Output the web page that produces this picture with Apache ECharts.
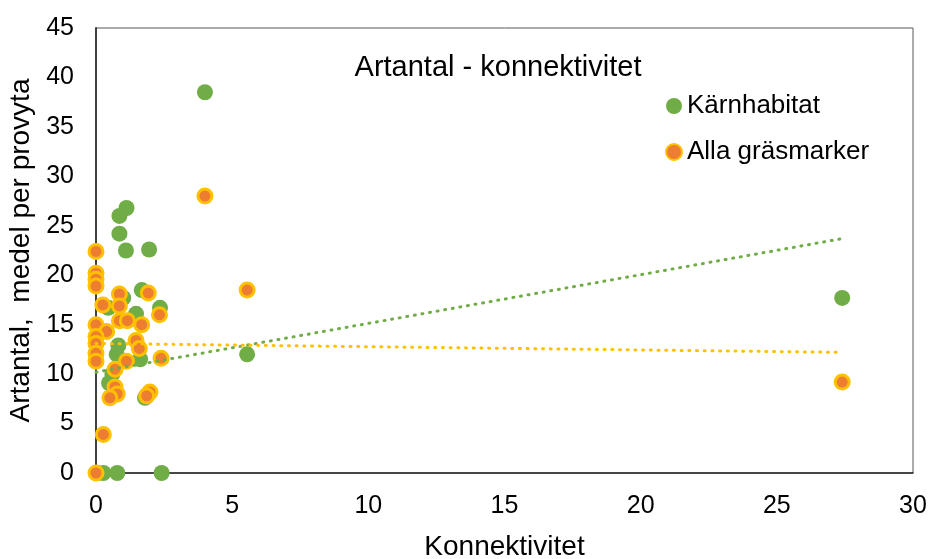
<!DOCTYPE html>
<html>
<head>
<meta charset="utf-8">
<script src="https://cdn.jsdelivr.net/npm/echarts@6/dist/echarts.min.js"></script>
<style>
  html, body { margin: 0; padding: 0; background: #fff; }
  #chart { width: 933px; height: 559px; }
</style>
</head>
<body>
<div id="chart"></div>
<script>
// Species count per site against connectivity
const karnhabitat = [
  [0.05, 0], [0.27, 0], [0.78, 0], [2.41, 0],
  [4.0, 38.5], [27.4, 17.7], [5.55, 12.0],
  [1.12, 26.8], [0.86, 26.0], [0.86, 24.2], [1.1, 22.5], [1.95, 22.6],
  [1.68, 18.5], [1.0, 17.7], [0.45, 16.7], [2.35, 16.7], [1.47, 16.1],
  [0.82, 12.9], [0.76, 12.0], [1.62, 11.5], [0.48, 9.1], [1.8, 7.6],
  [0.6, 10.0], [0.7, 8.2]
];
const allaGrasmarker = [
  [0, 0], [0.27, 3.9], [4.0, 28.0], [5.55, 18.5], [27.4, 9.2],
  [0, 22.4], [0, 20.2], [0, 19.6], [0, 18.9], [0.86, 18.1], [1.92, 18.2],
  [0.25, 17.0], [0.86, 16.9], [2.33, 16.0], [0.86, 15.4], [1.15, 15.4],
  [1.68, 15.0], [0, 15.0], [0.39, 14.3], [0, 13.8], [0, 13.1], [0, 12.1],
  [0, 11.3], [1.47, 13.4], [1.59, 12.6], [1.12, 11.3], [0.7, 10.5],
  [2.39, 11.6], [0.7, 8.7], [0.78, 8.0], [0.51, 7.6], [1.98, 8.2], [1.86, 7.8]
];
// Linear trend lines (start and end points)
const karnTrend = [[0, 10.2], [27.4, 23.7]];
const allaTrend = [[0, 13.1], [27.4, 12.2]];

const xTicks = [0, 5, 10, 15, 20, 25, 30];
const yTicks = [0, 5, 10, 15, 20, 25, 30, 35, 40, 45];

const FONT = 'Liberation Sans, Arial, sans-serif';
const GREEN = '#70AD47';
const ORANGE = '#ED7D31';
const GOLD = '#FFC000';

const chart = echarts.init(document.getElementById('chart'), null, { renderer: 'canvas' });
chart.setOption({
  animation: false,
  backgroundColor: '#fff',
  title: {
    text: 'Artantal - konnektivitet',
    left: 493, top: 48, textAlign: 'center',
    textStyle: { fontFamily: FONT, fontSize: 29, fontWeight: 'normal', color: '#000' }
  },
  legend: {
    orient: 'vertical',
    left: 660, top: 88,
    itemWidth: 16, itemHeight: 16, itemGap: 20,
    textStyle: { fontFamily: FONT, fontSize: 26, color: '#000' },
    data: [
      { name: 'Kärnhabitat', icon: 'circle' },
      { name: 'Alla gräsmarker', icon: 'circle' }
    ]
  },
  grid: {
    left: 96, right: 20, top: 28, bottom: 86,
    outerBoundsMode: 'none', containLabel: false,
    show: true, borderColor: '#595959', borderWidth: 1
  },
  xAxis: {
    type: 'value', min: xTicks[0], max: xTicks[xTicks.length - 1], interval: 5,
    name: 'Konnektivitet', nameLocation: 'middle', nameGap: 60,
    nameTextStyle: { fontFamily: FONT, fontSize: 28, color: '#000' },
    axisLine: { show: true, lineStyle: { color: '#262626', width: 1.5 } },
    axisTick: { show: false },
    splitLine: { show: false },
    axisLabel: { fontFamily: FONT, fontSize: 25, color: '#000', margin: 21 }
  },
  yAxis: {
    type: 'value', min: yTicks[0], max: yTicks[yTicks.length - 1], interval: 5,
    name: 'Artantal,  medel per provyta', nameLocation: 'middle', nameGap: 57,
    nameTextStyle: { fontFamily: FONT, fontSize: 28, color: '#000' },
    axisLine: { show: true, lineStyle: { color: '#404040', width: 2 } },
    axisTick: { show: false },
    splitLine: { show: false },
    axisLabel: { fontFamily: FONT, fontSize: 25, color: '#000', margin: 22 }
  },
  series: [
    {
      name: 'Kärnhabitat', type: 'scatter', data: karnhabitat,
      symbolSize: 16,
      itemStyle: { color: GREEN, opacity: 1 },
      z: 2
    },
    {
      name: 'Alla gräsmarker', type: 'scatter', data: allaGrasmarker,
      symbolSize: 14,
      itemStyle: { color: ORANGE, borderColor: GOLD, borderWidth: 3, opacity: 1 },
      z: 3
    },
    {
      name: 'trend-karn', type: 'line', data: karnTrend,
      showSymbol: false, silent: true, z: 4,
      lineStyle: { color: GREEN, width: 3, type: [1, 6.7], cap: 'round' }
    },
    {
      name: 'trend-alla', type: 'line', data: allaTrend,
      showSymbol: false, silent: true, z: 4,
      lineStyle: { color: GOLD, width: 3, type: [1, 6.7], cap: 'round' }
    }
  ]
});
</script>
</body>
</html>
